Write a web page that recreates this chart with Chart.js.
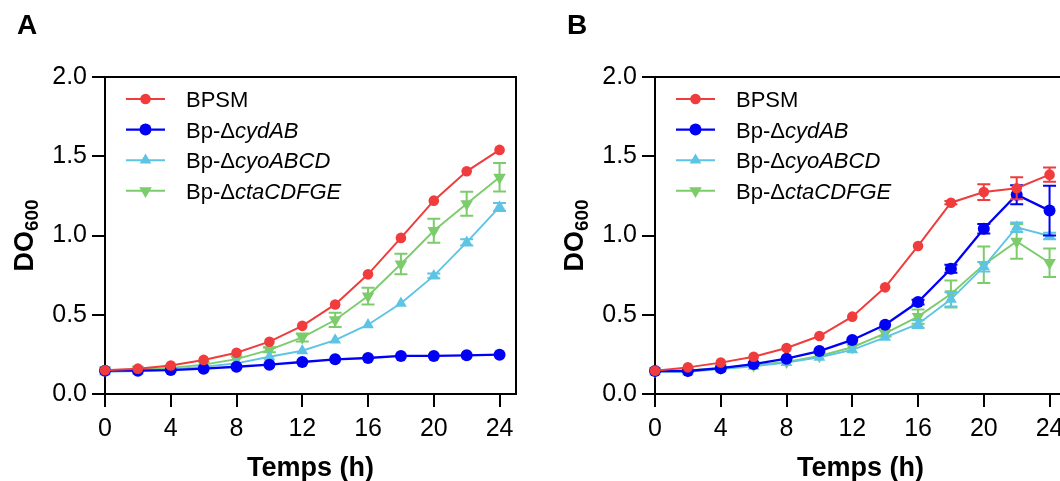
<!DOCTYPE html>
<html>
<head>
<meta charset="utf-8">
<title>Croissance BPSM et mutants</title>
<script src="https://cdn.jsdelivr.net/npm/chart.js@4.4.1/dist/chart.umd.min.js"></script>
<style>
  html, body { margin: 0; padding: 0; background: #fff; }
  body { width: 1060px; height: 481px; overflow: hidden; position: relative; }
  canvas { position: absolute; top: 0; }
  #panelA { left: 0; }
  #panelB { left: 550px; }
</style>
</head>
<body>
<canvas id="panelA" width="530" height="481"></canvas>
<canvas id="panelB" width="530" height="481"></canvas>
<script>
// Sampling times (h) and axis ticks
const hours = [0, 2, 4, 6, 8, 10, 12, 14, 16, 18, 20, 22, 24];
const xTicks = [0, 4, 8, 12, 16, 20, 24];
const yTicks = [0, 0.5, 1.0, 1.5, 2.0];
const seriesNames = ['BPSM', 'Bp-\u0394cydAB', 'Bp-\u0394cyoABCD', 'Bp-\u0394ctaCDFGE'];
const panelLetters = ['A', 'B'];

// Panel A: DO600 means
const aBpsm = [0.15, 0.16, 0.18, 0.215, 0.26, 0.33, 0.43, 0.565, 0.755, 0.985, 1.22, 1.405, 1.54];
const aCyd  = [0.147, 0.147, 0.151, 0.16, 0.172, 0.185, 0.202, 0.219, 0.227, 0.24, 0.24, 0.244, 0.248];
const aCyo  = [0.14, 0.145, 0.155, 0.172, 0.193, 0.235, 0.273, 0.34, 0.437, 0.572, 0.745, 0.957, 1.18];
const aCta  = [0.15, 0.155, 0.165, 0.185, 0.22, 0.278, 0.357, 0.467, 0.618, 0.82, 1.03, 1.2, 1.367];
// Panel A: standard deviations
const aErrBpsm = [0, 0, 0, 0, 0, 0, 0, 0, 0, 0, 0, 0, 0];
const aErrCyd  = [0, 0, 0, 0, 0, 0, 0, 0, 0, 0, 0, 0, 0];
const aErrCyo  = [0, 0, 0, 0, 0, 0, 0, 0, 0, 0, 0.015, 0.02, 0.025];
const aErrCta  = [0, 0, 0, 0, 0, 0.015, 0.025, 0.045, 0.053, 0.065, 0.076, 0.076, 0.09];

// Panel B: DO600 means
const bBpsm = [0.147, 0.168, 0.198, 0.235, 0.29, 0.366, 0.488, 0.673, 0.934, 1.207, 1.274, 1.298, 1.384];
const bCyd  = [0.145, 0.145, 0.163, 0.189, 0.223, 0.271, 0.341, 0.437, 0.58, 0.79, 1.043, 1.257, 1.157];
const bCyo  = [0.14, 0.14, 0.158, 0.175, 0.198, 0.232, 0.278, 0.357, 0.442, 0.597, 0.803, 1.052, 0.997];
const bCta  = [0.145, 0.148, 0.165, 0.182, 0.203, 0.24, 0.295, 0.383, 0.488, 0.631, 0.816, 0.963, 0.828];
// Panel B: standard deviations
const bErrBpsm = [0, 0, 0, 0, 0, 0, 0, 0, 0, 0.01, 0.05, 0.07, 0.045];
const bErrCyd  = [0, 0, 0, 0, 0, 0, 0, 0, 0.015, 0.025, 0.03, 0.06, 0.157];
const bErrCyo  = [0, 0, 0, 0, 0, 0, 0, 0, 0.025, 0.045, 0.03, 0.03, 0.02];
const bErrCta  = [0, 0, 0, 0, 0, 0, 0, 0.02, 0.045, 0.085, 0.115, 0.11, 0.09];

// Series styling
const seriesColors = ['#F03C3C', '#0000F5', '#5EC4E4', '#7CCC6C'];
const seriesMarkers = [
  { style: 'circle', radius: 5.3, rotation: 0 },
  { style: 'circle', radius: 6, rotation: 0 },
  { style: 'triangle', radius: 6.8, rotation: 0 },
  { style: 'triangle', radius: 7.3, rotation: 180 }
];
const seriesLineWidths = [2, 2.3, 1.9, 1.9];

const FONT = '"Liberation Sans", Arial, Helvetica, sans-serif';
Chart.defaults.font.family = FONT;
Chart.defaults.color = '#000';

function drawMarker(ctx, m, x, y) {
  ctx.beginPath();
  if (m.style === 'circle') {
    ctx.arc(x, y, m.radius, 0, Math.PI * 2);
  } else {
    let rad = m.rotation * Math.PI / 180;
    for (let k = 0; k < 3; k++) {
      const px = x + Math.sin(rad) * m.radius;
      const py = y - Math.cos(rad) * m.radius;
      if (k === 0) ctx.moveTo(px, py); else ctx.lineTo(px, py);
      rad += 2 * Math.PI / 3;
    }
    ctx.closePath();
  }
  ctx.fill();
}

const panelDecor = {
  id: 'panelDecor',
  beforeDatasetDraw(chart, args, opts) {
    // error bars sit just under each series' line and markers
    const errs = opts.errors[args.index];
    const ds = chart.data.datasets[args.index];
    const xs = chart.scales.x, ys = chart.scales.y;
    const ctx = chart.ctx;
    ctx.save();
    ctx.strokeStyle = ds.borderColor;
    ctx.lineWidth = 2;
    ds.data.forEach((p, i) => {
      const e = errs[i];
      if (!e) return;
      const px = xs.getPixelForValue(p.x);
      const top = ys.getPixelForValue(p.y + e);
      const bot = ys.getPixelForValue(p.y - e);
      ctx.beginPath();
      ctx.moveTo(px, top); ctx.lineTo(px, bot);
      ctx.moveTo(px - 6.5, top); ctx.lineTo(px + 6.5, top);
      ctx.moveTo(px - 6.5, bot); ctx.lineTo(px + 6.5, bot);
      ctx.stroke();
    });
    ctx.restore();
  },
  afterDraw(chart, args, opts) {
    const ctx = chart.ctx;
    const a = chart.chartArea;
    ctx.save();
    // closing frame: top and right edges
    ctx.strokeStyle = '#000';
    ctx.lineWidth = 2;
    ctx.beginPath();
    ctx.moveTo(a.left - 1, Math.round(a.top));
    ctx.lineTo(Math.round(a.right), Math.round(a.top));
    ctx.lineTo(Math.round(a.right), a.bottom + 1);
    ctx.stroke();

    // legend
    const x1 = a.left + 21, x2 = a.left + 60, tx = a.left + 81;
    seriesNames.forEach((name, i) => {
      const y = a.top + 22 + i * 30.6;
      ctx.strokeStyle = seriesColors[i];
      ctx.fillStyle = seriesColors[i];
      ctx.lineWidth = seriesLineWidths[i];
      ctx.beginPath();
      ctx.moveTo(x1, y); ctx.lineTo(x2, y);
      ctx.stroke();
      drawMarker(ctx, seriesMarkers[i], (x1 + x2) / 2, y);
      ctx.fillStyle = '#000';
      ctx.textAlign = 'left';
      ctx.textBaseline = 'alphabetic';
      const cut = name.indexOf('\u0394');
      const plain = cut >= 0 ? name.slice(0, cut + 1) : name;
      const gene = cut >= 0 ? name.slice(cut + 1) : '';
      ctx.font = '22px ' + FONT;
      ctx.fillText(plain, tx, y + 8);
      if (gene) {
        const w = ctx.measureText(plain).width;
        ctx.font = 'italic 22px ' + FONT;
        ctx.fillText(gene, tx + w, y + 8);
      }
    });

    // y axis title: DO with subscript 600
    ctx.fillStyle = '#000';
    ctx.font = 'bold 27px ' + FONT;
    const wMain = ctx.measureText('DO').width;
    ctx.font = 'bold 19px ' + FONT;
    const wSub = ctx.measureText('600').width;
    const cy = (a.top + a.bottom) / 2;
    ctx.translate(33, cy + (wMain + wSub) / 2);
    ctx.rotate(-Math.PI / 2);
    ctx.textAlign = 'left';
    ctx.textBaseline = 'alphabetic';
    ctx.font = 'bold 27px ' + FONT;
    ctx.fillText('DO', 0, 0);
    ctx.font = 'bold 19px ' + FONT;
    ctx.fillText('600', wMain, 5);
    ctx.setTransform(1, 0, 0, 1, 0, 0);

    // x axis title
    ctx.font = 'bold 27px ' + FONT;
    ctx.textAlign = 'center';
    ctx.fillText('Temps (h)', (a.left + a.right) / 2, 476);

    // panel letter
    ctx.font = 'bold 28px ' + FONT;
    ctx.textAlign = 'left';
    ctx.fillText(opts.letter, 17, 34);
    ctx.restore();
  }
};

function makePanel(canvasId, letter, values, errors) {
  const datasets = values.map((vals, i) => ({
    label: seriesNames[i],
    data: hours.map((h, k) => ({ x: h, y: vals[k] })),
    borderColor: seriesColors[i],
    backgroundColor: seriesColors[i],
    borderWidth: seriesLineWidths[i],
    pointStyle: seriesMarkers[i].style,
    pointRadius: seriesMarkers[i].radius,
    pointRotation: seriesMarkers[i].rotation,
    pointBackgroundColor: seriesColors[i],
    pointBorderColor: seriesColors[i],
    pointBorderWidth: 0,
    tension: 0,
    clip: false
  }));
  return new Chart(document.getElementById(canvasId), {
    type: 'line',
    data: { datasets },
    plugins: [panelDecor],
    options: {
      responsive: false,
      animation: false,
      devicePixelRatio: 1,
      layout: { padding: { left: 0, top: 77, right: 14, bottom: 0 } },
      plugins: {
        legend: { display: false },
        tooltip: { enabled: false },
        panelDecor: { letter, errors }
      },
      scales: {
        x: {
          type: 'linear',
          min: 0,
          max: 25,
          afterBuildTicks: s => { s.ticks = xTicks.map(v => ({ value: v })); },
          afterFit: s => { s.height = 87; },
          grid: { drawOnChartArea: false, drawTicks: true, tickLength: 13, color: '#000', lineWidth: 2 },
          border: { display: true, color: '#000', width: 2 },
          ticks: { font: { size: 25 }, color: '#000', padding: 7, maxRotation: 0 }
        },
        y: {
          min: 0,
          max: 2,
          afterBuildTicks: s => { s.ticks = yTicks.map(v => ({ value: v })); },
          afterFit: s => { s.width = 105; },
          grid: { drawOnChartArea: false, drawTicks: true, tickLength: 13, color: '#000', lineWidth: 2 },
          border: { display: true, color: '#000', width: 2 },
          ticks: { font: { size: 25 }, color: '#000', padding: 5, callback: v => Number(v).toFixed(1) }
        }
      }
    }
  });
}

makePanel('panelA', panelLetters[0], [aBpsm, aCyd, aCyo, aCta], [aErrBpsm, aErrCyd, aErrCyo, aErrCta]);
makePanel('panelB', panelLetters[1], [bBpsm, bCyd, bCyo, bCta], [bErrBpsm, bErrCyd, bErrCyo, bErrCta]);
</script>
</body>
</html>
